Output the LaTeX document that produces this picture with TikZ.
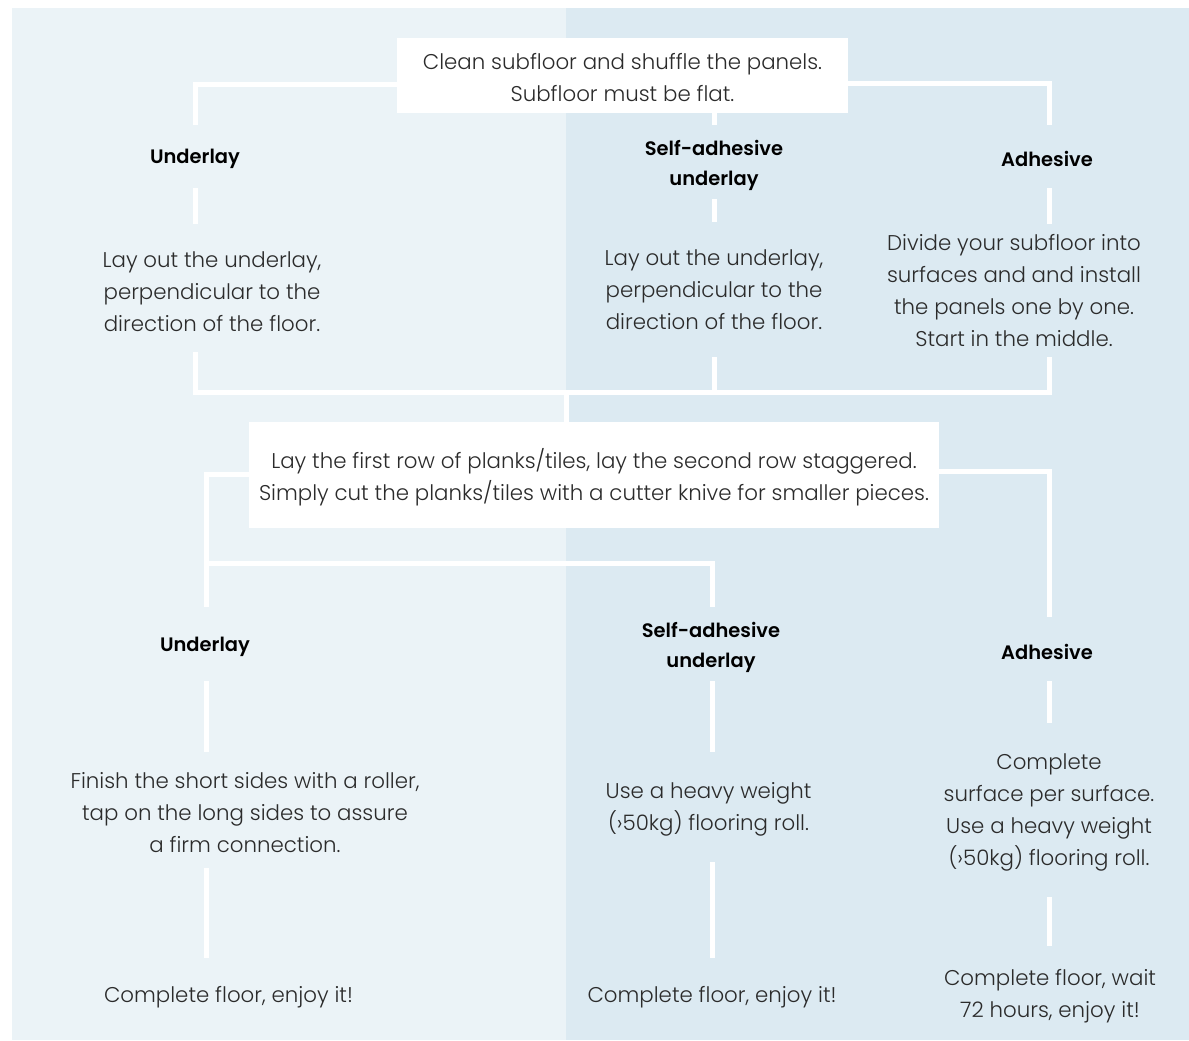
\documentclass[tikz,border=0pt]{standalone}
\usepackage{fontspec}
\setmainfont{Poppins}[UprightFont={* Light}, BoldFont={* SemiBold}]
\definecolor{leftbg}{HTML}{EBF3F7}
\definecolor{rightbg}{HTML}{DCEAF2}
\definecolor{textgray}{HTML}{2B2B2B}
\newcommand{\bodyfont}{\fontsize{16}{24}\selectfont}
\newcommand{\headfont}{\bfseries\fontsize{14.6}{22.5}\selectfont}
\begin{document}
\begin{tikzpicture}[x=0.75pt,y=-0.75pt,
  conn/.style={draw=white,line width=3.75pt},
  boxnode/.style={fill=white,inner sep=0pt,align=center,font=\bodyfont,text=textgray},
  body/.style={align=center,font=\bodyfont,text=textgray,inner sep=0pt},
  head/.style={align=center,font=\headfont,text=black,inner sep=0pt}]
\useasboundingbox (0,0) rectangle (1189,1040);
\fill[white] (0,0) rectangle (1189,1040);
\fill[leftbg] (12,8) rectangle (566,1040);
\fill[rightbg] (566,8) rectangle (1189,1040);

% coordinates
\coordinate (aL) at (195.5,125);
\coordinate (aM) at (714,125);
\coordinate (aR) at (1049,125);
\coordinate (bL1) at (195.5,188); \coordinate (bL2) at (195.5,224);
\coordinate (bM1) at (714,199);   \coordinate (bM2) at (714,222);
\coordinate (bR1) at (1049,188);  \coordinate (bR2) at (1049,224);
\coordinate (cL) at (195.5,352);
\coordinate (cM) at (714,357);
\coordinate (cR) at (1049,357);
\coordinate (mid) at (566.5,392.5);
\coordinate (dL) at (206,607);
\coordinate (kL) at (206,563.5);
\coordinate (dM) at (712,607);
\coordinate (dR) at (1049,617);
\coordinate (eL1) at (206,681);  \coordinate (eL2) at (206,752);
\coordinate (eM1) at (712,681);  \coordinate (eM2) at (712,752);
\coordinate (eR1) at (1049,681); \coordinate (eR2) at (1049,723);
\coordinate (fL1) at (206,868);  \coordinate (fL2) at (206,958);
\coordinate (fM1) at (712,862);  \coordinate (fM2) at (712,958);
\coordinate (fR1) at (1049,897); \coordinate (fR2) at (1049,946);

% boxes
\node[boxnode,minimum width=338.25pt,minimum height=56.25pt] (start) at (622.5,75.5) {};
\node[body] (starttext) at (622.5,77.5)
  {Clean subfloor and shuffle the panels.\\Subfloor must be flat.};
\node[boxnode,minimum width=517.5pt,minimum height=79.5pt] (row) at (594,475) {};
\node[body] (rowtext) at (594,477.5)
  {Lay the first row of planks/tiles, lay the second row staggered.\\Simply cut the planks/tiles with a cutter knive for smaller pieces.};

% level 1 headers
\node[head] (h1L) at (195,159) {Underlay};
\node[head] (h1M) at (714,165) {Self-adhesive\\underlay};
\node[head] (h1R) at (1047,159) {Adhesive};

% level 1 texts
\node[body] (t1L) at (212,291.5) {Lay out the underlay,\\perpendicular to the\\direction of the floor.};
\node[body] (t1M) at (714,289.5) {Lay out the underlay,\\perpendicular to the\\direction of the floor.};
\node[body] (t1R) at (1014,290.5) {Divide your subfloor into\\surfaces and and install\\the panels one by one.\\Start in the middle.};

% level 2 headers
\node[head] (h2L) at (205,647) {Underlay};
\node[head] (h2M) at (711,647) {Self-adhesive\\underlay};
\node[head] (h2R) at (1047,652) {Adhesive};

% level 2 texts
\node[body] (t2L) at (245,813) {Finish the short sides with a roller,\\tap on the long sides to assure\\a firm connection.};
\node[body] (t2M) at (708.5,809) {Use a heavy weight\\(›50kg) flooring roll.};
\node[body] (t2R) at (1049,812) {Complete\\surface per surface.\\Use a heavy weight\\(›50kg) flooring roll.};

% final texts
\node[body] (t3L) at (228.5,997) {Complete floor, enjoy it!};
\node[body] (t3M) at (712,997) {Complete floor, enjoy it!};
\node[body] (t3R) at (1050,996.5) {Complete floor, wait\\72 hours, enjoy it!};

% connectors
\draw[conn] (start.west |- 0,84) -| (aL);
\draw[conn] (start.east |- 0,83) -| (aR);
\draw[conn] (start.south -| aM) -- (aM);
\draw[conn] (bL1) -- (bL2);
\draw[conn] (bM1) -- (bM2);
\draw[conn] (bR1) -- (bR2);
\draw[conn] (cL) |- (mid) -| (cR);
\draw[conn] (cM) -- (cM |- mid);
\draw[conn] (mid) -- (mid |- row.north);
\draw[conn] (row.west |- 0,474.5) -| (dL);
\draw[conn] (kL) -| (dM);
\draw[conn] (row.east |- 0,471.5) -| (dR);
\draw[conn] (eL1) -- (eL2);
\draw[conn] (eM1) -- (eM2);
\draw[conn] (eR1) -- (eR2);
\draw[conn] (fL1) -- (fL2);
\draw[conn] (fM1) -- (fM2);
\draw[conn] (fR1) -- (fR2);
\end{tikzpicture}
\end{document}
